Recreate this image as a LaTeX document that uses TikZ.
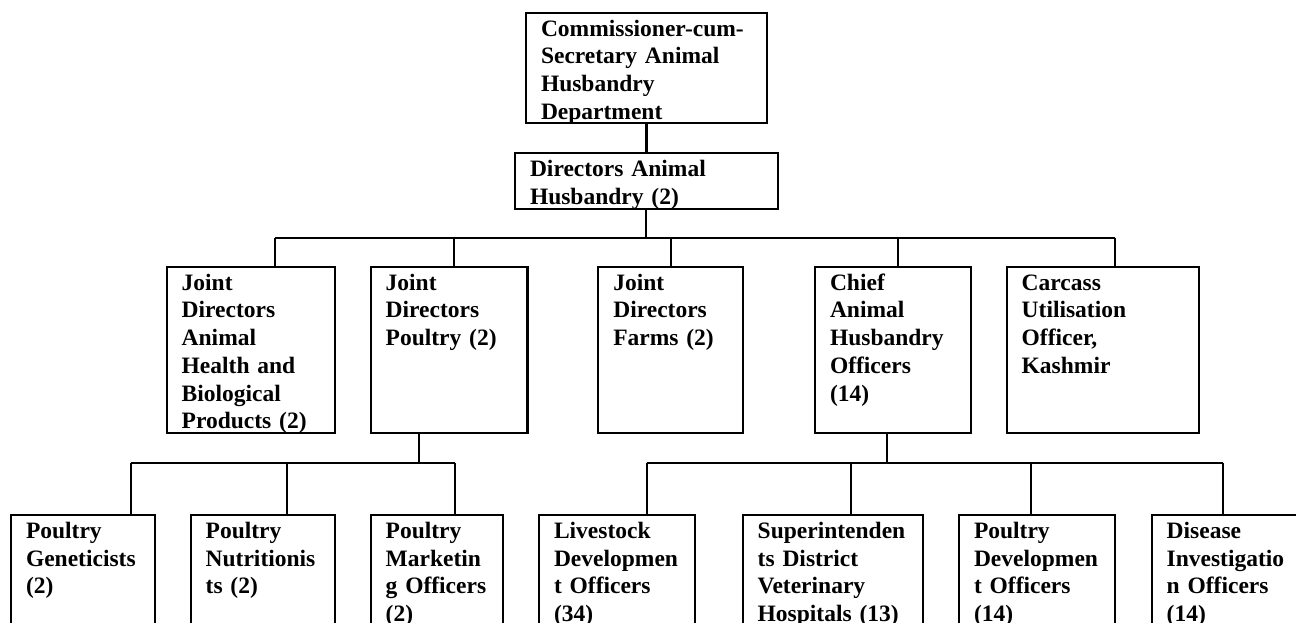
\documentclass[tikz,border=0pt]{standalone}
\usepackage{fontspec}
\setmainfont{Liberation Serif}
\tikzset{
  unit/.style={draw, line width=2.2pt, anchor=north west, outer sep=0pt,
    inner xsep=15pt, inner ysep=0pt, align=left, text height=23.5pt,
    font=\bfseries\fontsize{23.5}{27.7}\selectfont},
  link/.style={line width=2.2pt}
}
\begin{document}
\begin{tikzpicture}[x=1pt, y=-1pt]
  \clip (0,0) rectangle (1296,622);
  % top
  \node [unit, text width=211pt, text depth=86.8pt] (comm) at (526,12.7)
    {Commissioner-cum-\\Secretary Animal\\Husbandry\\Department};
  \node [unit, text width=232.7pt, text depth=32.5pt] (dirs) at (515,153)
    {Directors Animal\\Husbandry (2)};
  % second row
  \node [unit, text width=138.3pt, text depth=143.1pt] (jdah) at (166.7,266.7)
    {Joint\\Directors\\Animal\\Health and\\Biological\\Products (2)};
  \node [unit, text width=126.7pt, text depth=143.1pt] (jdp) at (370.7,266.7)
    {Joint\\Directors\\Poultry (2)};
  \node [unit, text width=115pt, text depth=143.1pt] (jdf) at (598.3,266.7)
    {Joint\\Directors\\Farms (2)};
  \node [unit, text width=125.7pt, text depth=143.1pt] (caho) at (815,266.7)
    {Chief\\Animal\\Husbandry\\Officers\\(14)};
  \node [unit, text width=162.6pt, text depth=143.1pt] (cuo) at (1006.7,266.7)
    {Carcass\\Utilisation\\Officer,\\Kashmir};
  % third row
  \node [unit, text width=114pt, text depth=140pt] (pg) at (11,515)
    {Poultry\\Geneticists\\(2)};
  \node [unit, text width=114.3pt, text depth=140pt] (pn) at (190.7,515)
    {Poultry\\Nutritionis\\ts (2)};
  \node [unit, text width=102pt, text depth=140pt] (pmo) at (370.7,515)
    {Poultry\\Marketin\\g Officers\\(2)};
  \node [unit, text width=126pt, text depth=140pt] (ldo) at (539,515)
    {Livestock\\Developmen\\t Officers\\(34)};
  \node [unit, text width=150.6pt, text depth=140pt] (sdvh) at (742.7,515)
    {Superintenden\\ts District\\Veterinary\\Hospitals (13)};
  \node [unit, text width=126pt, text depth=140pt] (pdo) at (959,515)
    {Poultry\\Developmen\\t Officers\\(14)};
  \node [unit, text width=130pt, text depth=140pt] (dio) at (1151.7,515)
    {Disease\\Investigatio\\n Officers\\(14)};
  % bus points
  \coordinate (t1) at (275,238);
  \coordinate (t2) at (454.3,238);
  \coordinate (t3) at (671,238);
  \coordinate (t4) at (898.3,238);
  \coordinate (t5) at (1115,238);
  \coordinate (p0) at (419,462.7);
  \coordinate (p1) at (130.7,462.7);
  \coordinate (p2) at (286.7,462.7);
  \coordinate (p3) at (455,462.7);
  \coordinate (c0) at (887.3,462.7);
  \coordinate (c1) at (646.7,462.7);
  \coordinate (c2) at (851,462.7);
  \coordinate (c3) at (1031,462.7);
  \coordinate (c4) at (1223.3,462.7);
  % links
  \draw [link] (comm.south) -- (comm.south |- dirs.north);
  \draw [link] (dirs.south) -- (dirs.south |- t1);
  \draw [link] (t1) -- (t5);
  \draw [link] (t1) -- (t1 |- jdah.north);
  \draw [link] (t2) -- (t2 |- jdp.north);
  \draw [link] (t3) -- (t3 |- jdf.north);
  \draw [link] (t4) -- (t4 |- caho.north);
  \draw [link] (t5) -- (t5 |- cuo.north);
  \draw [link] (p0 |- jdp.south) -- (p0);
  \draw [link] (p1) -- (p3);
  \draw [link] (p1) -- (p1 |- pg.north);
  \draw [link] (p2) -- (p2 |- pn.north);
  \draw [link] (p3) -- (p3 |- pmo.north);
  \draw [link] (c0 |- caho.south) -- (c0);
  \draw [link] (c1) -- (c4);
  \draw [link] (c1) -- (c1 |- ldo.north);
  \draw [link] (c2) -- (c2 |- sdvh.north);
  \draw [link] (c3) -- (c3 |- pdo.north);
  \draw [link] (c4) -- (c4 |- dio.north);
\end{tikzpicture}
\end{document}
